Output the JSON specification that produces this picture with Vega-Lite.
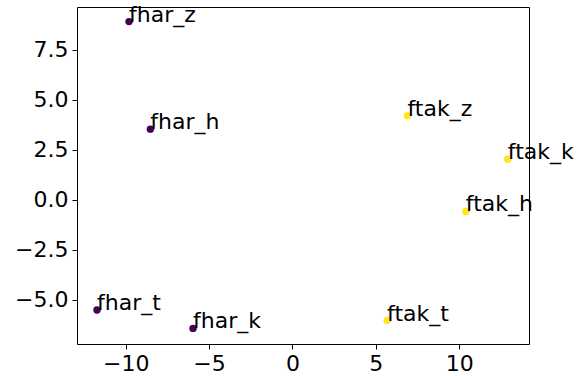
{
  "$schema": "https://vega.github.io/schema/vega-lite/v6.json",
  "width": 452,
  "height": 337,
  "autosize": {"type": "none"},
  "padding": {"left": 77, "top": 7, "right": 56, "bottom": 32},
  "background": "white",
  "config": {
    "view": {"stroke": "black", "strokeWidth": 1},
    "font": "DejaVu Sans",
    "axis": {
      "grid": false,
      "domain": false,
      "labelFont": "DejaVu Sans",
      "labelFontSize": 22,
      "labelColor": "black",
      "tickColor": "black",
      "tickSize": 5,
      "tickWidth": 1,
      "labelPadding": 4,
      "title": null
    }
  },
  "data": {
    "values": [
      {"x": -9.80, "y": 8.90, "label": "fhar_z", "group": "fhar"},
      {"x": -8.52, "y": 3.53, "label": "fhar_h", "group": "fhar"},
      {"x": -11.72, "y": -5.50, "label": "fhar_t", "group": "fhar"},
      {"x": -5.96, "y": -6.42, "label": "fhar_k", "group": "fhar"},
      {"x": 6.90, "y": 4.20, "label": "ftak_z", "group": "ftak"},
      {"x": 12.92, "y": 2.03, "label": "ftak_k", "group": "ftak"},
      {"x": 10.40, "y": -0.58, "label": "ftak_h", "group": "ftak"},
      {"x": 5.68, "y": -6.03, "label": "ftak_t", "group": "ftak"}
    ]
  },
  "encoding": {
    "x": {
      "field": "x", "type": "quantitative",
      "scale": {"domain": [-12.92, 14.19], "nice": false, "zero": false},
      "axis": {"values": [-10, -5, 0, 5, 10], "format": "d", "labelFlush": false}
    },
    "y": {
      "field": "y", "type": "quantitative",
      "scale": {"domain": [-7.2, 9.63], "nice": false, "zero": false},
      "axis": {"values": [-5, -2.5, 0, 2.5, 5, 7.5], "format": ".1f", "labelFlush": false}
    }
  },
  "layer": [
    {
      "mark": {"type": "point", "filled": true, "size": 55, "opacity": 1, "shape": "circle"},
      "encoding": {
        "color": {
          "field": "group", "type": "nominal",
          "scale": {"domain": ["fhar", "ftak"], "range": ["#440154", "#fde725"]},
          "legend": null
        }
      }
    },
    {
      "mark": {"type": "text", "align": "left", "baseline": "alphabetic", "fontSize": 22, "font": "DejaVu Sans", "color": "black", "clip": false},
      "encoding": {"text": {"field": "label"}}
    }
  ]
}
